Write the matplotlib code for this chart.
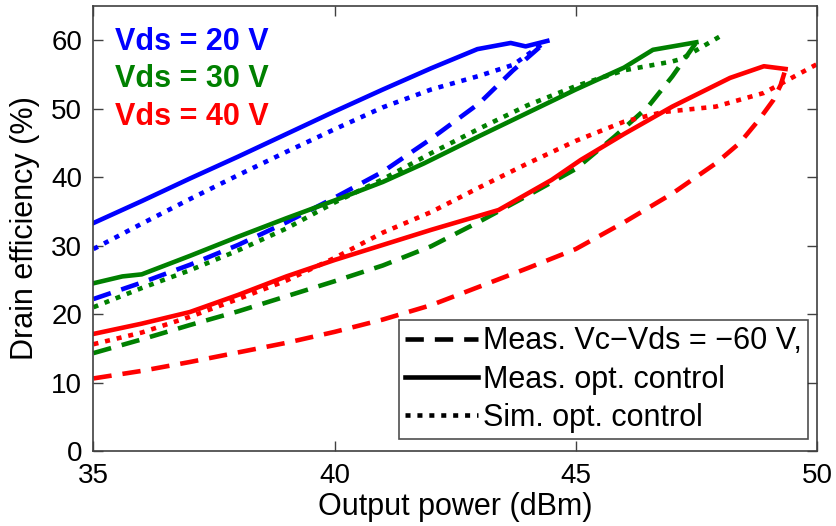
import numpy as np
import matplotlib
matplotlib.use("Agg")
import matplotlib.pyplot as plt
from matplotlib.lines import Line2D

plt.rcParams['font.family'] = ['Liberation Sans', 'DejaVu Sans']

# drain efficiency vs output power, three drain voltages
# Vds = 20 V
p20_opt = [35, 36, 37, 38, 39, 40, 41, 42, 42.96, 43.65, 43.96, 44.41]
de20_opt = [33.3, 36.5, 39.8, 43.0, 46.3, 49.6, 52.8, 55.9, 58.7, 59.6, 59.1, 59.9]
p20_sim = [35, 36, 37, 38, 39, 40, 41, 42, 43, 43.7, 44.4]
de20_sim = [29.5, 33.2, 36.8, 40.3, 43.7, 47.0, 50.2, 52.8, 54.8, 56.4, 59.9]
p20_fix = [35, 36, 37, 38, 39, 40, 41, 42, 43, 43.7, 44.4]
de20_fix = [22.2, 24.6, 27.2, 30.1, 33.4, 37.0, 40.8, 45.6, 50.8, 55.6, 59.9]

# Vds = 30 V
p30_opt = [35, 35.6, 36, 37, 38, 39, 40, 41, 41.85, 43, 44, 45, 46, 46.6, 47.5]
de30_opt = [24.5, 25.5, 25.8, 28.5, 31.3, 34.0, 36.6, 39.3, 42.0, 46.0, 49.4, 52.8, 56.0, 58.6, 59.7]
p30_sim = [35, 36, 37, 38, 39, 40, 41, 42, 43, 44, 45, 46, 47, 47.2, 48]
de30_sim = [21.0, 23.8, 26.4, 29.3, 32.5, 36.3, 39.7, 43.5, 47.1, 50.5, 53.3, 55.6, 56.9, 57.3, 60.6]
p30_fix = [35, 36, 37, 38, 39, 40, 41, 42, 43, 44, 45, 45.8, 46.5, 47.0, 47.5]
de30_fix = [14.3, 16.3, 18.4, 20.4, 22.6, 24.8, 27.1, 29.9, 33.5, 37.3, 41.2, 45.9, 50.3, 54.7, 59.7]

# Vds = 40 V
p40_opt = [35, 36, 37, 38, 39, 40, 41, 42, 43.4, 44.5, 45.1, 46, 47, 48.2, 48.9, 49.35]
de40_opt = [17.1, 18.6, 20.3, 22.8, 25.5, 27.9, 30.1, 32.3, 35.2, 39.6, 42.5, 46.3, 50.3, 54.5, 56.2, 55.8]
p40_sim = [35, 36, 37, 38, 39, 40, 41, 42, 43, 44, 45, 46, 46.8, 47.9, 48.9, 50]
de40_sim = [15.6, 17.3, 19.6, 22.2, 24.9, 28.2, 31.9, 34.9, 38.5, 42.0, 45.3, 48.1, 49.5, 50.3, 52.3, 56.5]
p40_fix = [35, 36, 37, 38, 39, 40, 41, 42, 43, 44, 45, 46, 47, 47.9, 48.4, 48.8, 49.1, 49.25, 49.35]
de40_fix = [10.6, 11.7, 13.0, 14.4, 15.8, 17.4, 19.2, 21.3, 24.0, 26.7, 29.5, 33.4, 37.6, 42.0, 45.0, 48.4, 51.3, 53.5, 55.8]

vds_labels = ['Vds = 20 V', 'Vds = 30 V', 'Vds = 40 V']
legend_labels = ['Meas. Vc\u2212Vds = \u221260 V,', 'Meas. opt. control', 'Sim. opt. control']

blue = '#0000ff'
green = '#008000'
red = '#ff0000'
lw = 3.3
dash = (0, (4.0, 2.4))
dot = (0, (1.1, 1.5))

fig = plt.figure(figsize=(8.36, 5.26), dpi=100)
ax = fig.add_axes([0.1118, 0.1426, 0.8654, 0.846])

for px, py, c in [(p20_fix, de20_fix, blue), (p30_fix, de30_fix, green), (p40_fix, de40_fix, red)]:
    ax.plot(px, py, color=c, lw=lw, linestyle=dash, dash_capstyle='butt')
for px, py, c in [(p20_opt, de20_opt, blue), (p30_opt, de30_opt, green), (p40_opt, de40_opt, red)]:
    ax.plot(px, py, color=c, lw=lw, linestyle='-')
for px, py, c in [(p20_sim, de20_sim, blue), (p30_sim, de30_sim, green), (p40_sim, de40_sim, red)]:
    ax.plot(px, py, color=c, lw=lw, linestyle=dot, dash_capstyle='butt')

ax.set_xlim(35, 50)
ax.set_ylim(0, 65)
ax.set_xticks([35, 40, 45, 50])
ax.set_yticks([0, 10, 20, 30, 40, 50, 60])

for lab, yb, c in zip(vds_labels, [58.6, 53.2, 47.6], [blue, green, red]):
    ax.text(35.44, yb, lab, color=c, fontsize=22, fontweight='bold', va='baseline', ha='left')

handles = [Line2D([], [], color='k', lw=lw, linestyle=dash, dash_capstyle='butt'),
           Line2D([], [], color='k', lw=lw, linestyle='-'),
           Line2D([], [], color='k', lw=lw, linestyle=dot, dash_capstyle='butt')]
leg = ax.legend(handles, legend_labels, loc='lower right', bbox_to_anchor=(0.9876, 0.027),
                borderaxespad=0, fontsize=22, frameon=True, fancybox=False,
                handlelength=2.4, handletextpad=0.15, borderpad=0.2, labelspacing=0.27)
leg.get_frame().set_edgecolor('#222222')
leg.get_frame().set_linewidth(1.2)

for s in ax.spines.values():
    s.set_color('#404040')
    s.set_linewidth(1.2)
ax.tick_params(direction='in', top=True, right=True, length=7, width=1, color='#404040',
               labelsize=20)
ax.tick_params(axis='x', pad=9)
ax.tick_params(axis='y', pad=8)

ax.set_xlabel('Output power (dBm)', fontsize=22, labelpad=2)
ax.set_ylabel('Drain efficiency (%)', fontsize=22, labelpad=8)

fig.savefig('out.png', dpi=100)
